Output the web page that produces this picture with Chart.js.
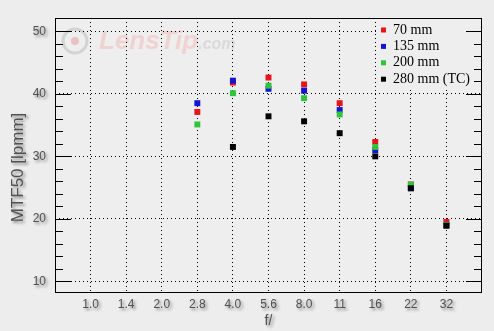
<!DOCTYPE html>
<html>
<head>
<meta charset="utf-8">
<script src="https://cdn.jsdelivr.net/npm/chart.js@4"></script>
<style>
  html, body { margin: 0; padding: 0; background: #ededed; }
  canvas { display: block; }
</style>
</head>
<body>
<canvas id="myChart" width="494" height="331"></canvas>
<script>
// data
const fStops = ["1.0", "1.4", "2.0", "2.8", "4.0", "5.6", "8.0", "11", "16", "22", "32"];
const mtf70 = [null, null, null, 37.1, 41.8, 42.6, 41.5, 38.5, 32.3, 25.5, 19.5];
const mtf135 = [null, null, null, 38.5, 42.1, 40.8, 40.5, 37.4, 31.0, 24.9, 19.0];
const mtf200 = [null, null, null, 35.1, 40.1, 41.3, 39.3, 36.7, 31.5, 25.5, 19.0];
const mtf280 = [null, null, null, null, 31.5, 36.4, 35.6, 33.7, 30.0, 24.9, 18.9];
const yTicks = [10, 20, 30, 40, 50];
const seriesNames = ["70 mm", "135 mm", "200 mm", "280 mm (TC)"];
const seriesColors = ["#e8141c", "#1414d2", "#2ec43c", "#000000"];

const toPoints = (arr) =>
  arr.map((v, i) => (v === null ? null : { x: i, y: v })).filter((p) => p);

const allSeries = [mtf70, mtf135, mtf200, mtf280];

const data = {
  datasets: allSeries.map((arr, i) => ({
    label: seriesNames[i],
    data: toPoints(arr),
    backgroundColor: seriesColors[i],
    borderWidth: 0,
    pointStyle: "rect",
    pointRadius: 4.2,
    pointHoverRadius: 4.2,
    showLine: false,
    order: 4 - i,
  })),
};

const labelColor = "#505050";

// extras: background, watermark, legend, box, ticks, labels
const decor = {
  id: "decor",
  beforeDraw(chart) {
    const { ctx, chartArea: a } = chart;
    ctx.save();
    ctx.fillStyle = "#ededed";
    ctx.fillRect(0, 0, chart.width, chart.height);
    ctx.fillStyle = "#eeeeee";
    ctx.fillRect(a.left, a.top, a.right - a.left, a.bottom - a.top);

    // watermark
    ctx.globalAlpha = 0.35;
    ctx.strokeStyle = "#a0a0a0";
    ctx.lineWidth = 3;
    ctx.beginPath();
    ctx.arc(a.left + 20, a.top + 23, 12, 0, Math.PI * 2);
    ctx.stroke();
    ctx.fillStyle = "#e07070";
    ctx.beginPath();
    ctx.arc(a.left + 20, a.top + 23, 4, 0, Math.PI * 2);
    ctx.fill();
    ctx.globalAlpha = 1;
    ctx.fillStyle = "#f1d2d2";
    ctx.font = "italic bold 26px 'Liberation Sans', Arial, sans-serif";
    ctx.textBaseline = "alphabetic";
    ctx.fillText("LensTip", a.left + 44, a.top + 31);
    const w = ctx.measureText("LensTip").width;
    ctx.fillStyle = "#dadada";
    ctx.font = "italic bold 16px 'Liberation Sans', Arial, sans-serif";
    ctx.fillText(".com", a.left + 44 + w, a.top + 31);
    ctx.restore();
  },
  afterDraw(chart) {
    const { ctx, chartArea: a } = chart;
    const x = chart.scales.x;
    const y = chart.scales.y;
    ctx.save();

    // legend
    ctx.fillStyle = "#eeeeee";
    ctx.fillRect(a.right - 106, a.top + 1, 91, 68);
    ctx.font = "14px 'Liberation Serif', 'Times New Roman', serif";
    ctx.textBaseline = "middle";
    ctx.textAlign = "left";
    seriesNames.forEach((name, i) => {
      const cy = a.top + 12 + i * 16.4;
      ctx.fillStyle = seriesColors[i];
      ctx.fillRect(a.right - 101, cy - 2.5, 5, 5);
      ctx.fillStyle = "#000";
      ctx.fillText(name, a.right - 89, cy);
    });

    // box
    ctx.strokeStyle = "#000";
    ctx.lineWidth = 1;
    ctx.strokeRect(a.left + 0.5, a.top + 0.5, a.right - a.left - 1, a.bottom - a.top - 1);

    // y ticks, left and right
    ctx.beginPath();
    for (let v = 10; v <= 50; v += 2) {
      const py = Math.round(y.getPixelForValue(v)) + 0.5;
      const len = v % 10 === 0 ? 16 : 8;
      ctx.moveTo(a.left, py);
      ctx.lineTo(a.left + len, py);
      ctx.moveTo(a.right, py);
      ctx.lineTo(a.right - len, py);
    }
    ctx.stroke();

    // labels with shadow
    ctx.shadowColor = "rgba(0,0,0,0.45)";
    ctx.shadowBlur = 3;
    ctx.shadowOffsetX = 2;
    ctx.shadowOffsetY = 2;
    ctx.fillStyle = labelColor;
    ctx.font = "12px 'Liberation Sans', Arial, sans-serif";
    ctx.textAlign = "right";
    yTicks.forEach((t) => {
      ctx.fillText(String(t), a.left - 9, y.getPixelForValue(t));
    });
    ctx.textAlign = "center";
    fStops.forEach((lab, i) => {
      ctx.fillText(lab, x.getPixelForValue(i), a.bottom + 12);
    });
    ctx.font = "14px 'Liberation Sans', Arial, sans-serif";
    ctx.fillText("f/", (a.left + a.right) / 2, a.bottom + 28);

    ctx.translate(18, (a.top + a.bottom) / 2 + 12);
    ctx.rotate(-Math.PI / 2);
    ctx.font = "17px 'Liberation Sans', Arial, sans-serif";
    ctx.fillText("MTF50 [lpmm]", 0, 0);
    ctx.restore();
  },
};

// config
const config = {
  type: "scatter",
  data,
  options: {
    responsive: false,
    animation: false,
    events: [],
    layout: { padding: { left: 0, right: 12, top: 18, bottom: 0 } },
    plugins: { legend: { display: false }, tooltip: { enabled: false } },
    scales: {
      x: {
        type: "linear",
        min: -1,
        max: 11,
        afterBuildTicks: (scale) => {
          scale.ticks = fStops.map((_, i) => ({ value: i }));
        },
        afterFit: (scale) => {
          scale.height = 38;
        },
        ticks: { display: false },
        grid: { color: "#000", lineWidth: 1, drawTicks: false },
        border: { display: false, dash: [1, 3] },
      },
      y: {
        min: 8.15,
        max: 52.12,
        afterBuildTicks: (scale) => {
          scale.ticks = yTicks.map((v) => ({ value: v }));
        },
        afterFit: (scale) => {
          scale.width = 55;
        },
        ticks: { display: false },
        grid: { color: "#000", lineWidth: 1, drawTicks: false },
        border: { display: false, dash: [1, 3] },
      },
    },
  },
  plugins: [decor],
};

// render
const myChart = new Chart(document.getElementById("myChart"), config);
</script>
</body>
</html>
